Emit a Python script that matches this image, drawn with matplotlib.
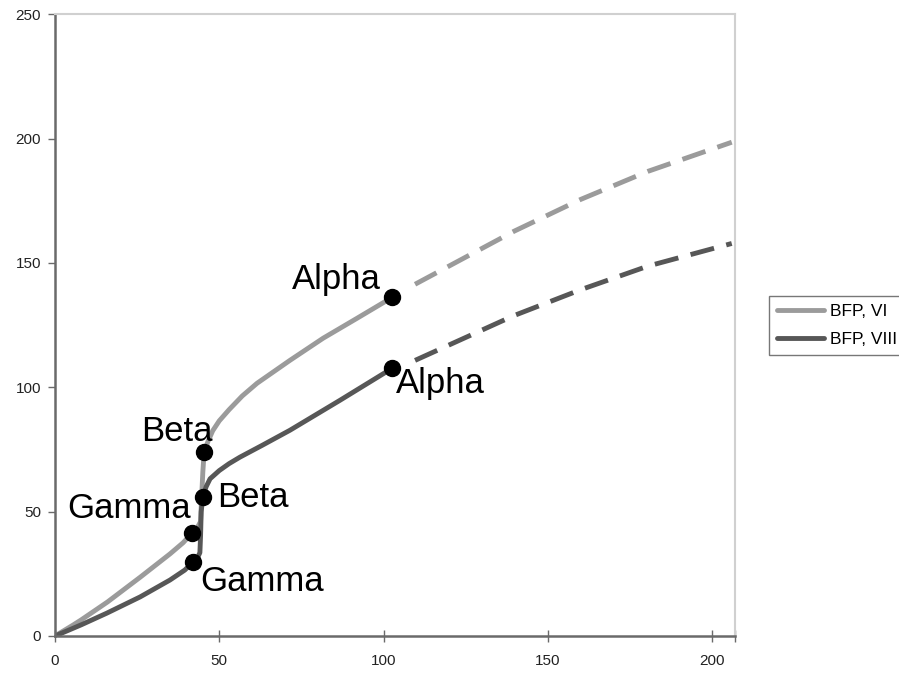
import matplotlib
matplotlib.use("Agg")
import matplotlib.pyplot as plt

plt.rcParams['font.family'] = ['Liberation Sans', 'DejaVu Sans']

# data
vi_x = [0, 5.5, 8, 16, 26, 35, 39, 41.7, 43.3, 44.3, 44.6, 45.0, 45.4, 46.5, 48, 50, 53, 57,
        61.5, 71.5, 81.6, 91.9, 102.6]
vi_y = [0, 4.4, 6.5, 13.7, 23.7, 33, 37.5, 41.4, 43.5, 46, 55, 66, 74, 78, 82.5, 86.5, 91, 96.5,
        101.6, 110.8, 119.7, 127.7, 136.1]
vi_dash_x = [109.6, 139.7, 160, 180.5, 206]
vi_dash_y = [141.4, 162.7, 175.5, 186.8, 198.5]

viii_x = [0, 8, 15.8, 25.9, 35, 39.5, 42, 43.4, 44.1, 44.3, 44.5, 45, 46, 47.2, 50, 53,
          56.3, 63, 71.5, 86.8, 102.6]
viii_y = [0, 4.5, 9.2, 15.7, 22.5, 26.5, 29.7, 31.5, 33.5, 40, 50, 55.8, 60, 63.2, 66.5, 69.3,
          71.9, 76.6, 82.7, 94.8, 107.6]
viii_dash_x = [109.6, 139.7, 160, 180.5, 206]
viii_dash_y = [110.8, 128.8, 139.2, 148.7, 157.8]

point_names = ['Alpha', 'Beta', 'Gamma']
vi_pts_x = [102.6, 45.4, 41.7]
vi_pts_y = [136.1, 74, 41.4]
viii_pts_x = [102.6, 45.0, 42.0]
viii_pts_y = [107.6, 55.8, 29.7]

light = '#9b9b9b'
dark = '#575757'

fig = plt.figure(figsize=(8.99, 6.73), dpi=100)
ax = fig.add_axes([0.0612, 0.055, 0.7564, 0.924])

# solid parts
ax.plot(vi_x, vi_y, color=light, lw=3.5, solid_capstyle='round', solid_joinstyle='round',
        label='BFP, VI', zorder=2)
ax.plot(viii_x, viii_y, color=dark, lw=3.5, solid_capstyle='round', solid_joinstyle='round',
        label='BFP, VIII', zorder=2)

# dashed extrapolation
ax.plot(vi_dash_x, vi_dash_y, color=light, lw=3.5, linestyle=(0, (5.0, 2.6)), zorder=2)
ax.plot(viii_dash_x, viii_dash_y, color=dark, lw=3.5, linestyle=(0, (5.0, 2.6)), zorder=2)

# marker points
ax.plot(vi_pts_x, vi_pts_y, 'o', color='black', ms=11.5, zorder=3)
ax.plot(viii_pts_x, viii_pts_y, 'o', color='black', ms=11.5, zorder=3)

# labels (offsets in pixels)
vi_offsets = [(-11, 18, 'right'), (8, 20, 'right'), (-1, 25, 'right')]
viii_offsets = [(4, -15, 'left'), (14, 0, 'left'), (7, -19, 'left')]
for name, x, y, (dx, dy, ha) in zip(point_names, vi_pts_x, vi_pts_y, vi_offsets):
    ax.annotate(name, (x, y), xytext=(dx, dy), textcoords='offset pixels',
                ha=ha, va='center', fontsize=25, color='black', zorder=4)
for name, x, y, (dx, dy, ha) in zip(point_names, viii_pts_x, viii_pts_y, viii_offsets):
    ax.annotate(name, (x, y), xytext=(dx, dy), textcoords='offset pixels',
                ha=ha, va='center', fontsize=25, color='black', zorder=4)

ax.set_xlim(0, 207)
ax.set_ylim(0, 250)
ax.set_xticks([0, 50, 100, 150, 200])
ax.set_xticks([207], minor=True)
ax.set_yticks([0, 50, 100, 150, 200, 250])

for side in ['left', 'bottom']:
    ax.spines[side].set_color('#6a6a6a')
    ax.spines[side].set_linewidth(1.8)
for side in ['top', 'right']:
    ax.spines[side].set_color('#d0d0d0')
    ax.spines[side].set_linewidth(1.5)

ax.tick_params(axis='x', which='both', direction='inout', length=8, width=1,
               color='#6a6a6a', pad=9, labelsize=11, labelcolor='#222222')
ax.tick_params(axis='y', direction='out', length=5, width=1,
               color='#6a6a6a', pad=5, labelsize=11, labelcolor='#222222')

leg = fig.legend(loc='upper left', bbox_to_anchor=(769 / 899, 1 - 296 / 673),
                 fontsize=12.5, frameon=True, fancybox=False, edgecolor='#555555',
                 handlelength=2.7, handletextpad=0.35, borderpad=0.45, labelspacing=0.75,
                 borderaxespad=0)
leg.get_frame().set_linewidth(1.0)

fig.savefig('out.png', dpi=100)
